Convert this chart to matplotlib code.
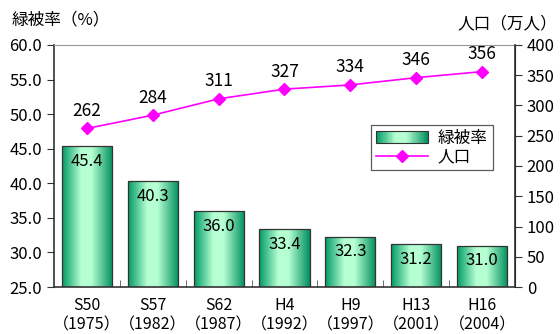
import matplotlib
matplotlib.use("Agg")
import matplotlib.pyplot as plt
import numpy as np
from matplotlib.colors import LinearSegmentedColormap
from matplotlib.legend_handler import HandlerBase
from matplotlib.patches import Rectangle
from matplotlib.lines import Line2D

plt.rcParams['font.family'] = ['Noto Sans CJK JP', 'DejaVu Sans']

periods = ["S50", "S57", "S62", "H4", "H9", "H13", "H16"]
years = ["1975", "1982", "1987", "1992", "1997", "2001", "2004"]
green_rate = [45.4, 40.3, 36.0, 33.4, 32.3, 31.2, 31.0]
population = [262, 284, 311, 327, 334, 346, 356]

# horizontal shading for the bars: dark edges, light middle
cmap = LinearSegmentedColormap.from_list(
    "bar", [(0.0, "#009a66"), (0.38, "#b6ffd2"), (0.58, "#b6ffd2"), (1.0, "#008f5e")])


class GradientHandler(HandlerBase):
    def create_artists(self, legend, orig, xdescent, ydescent, width, height, fontsize, trans):
        arts = []
        n = 30
        for i in range(n):
            arts.append(Rectangle((-xdescent + width * i / n, -ydescent), width / n + 0.3, height,
                                  facecolor=cmap((i + 0.5) / n), edgecolor="none", transform=trans))
        arts.append(Rectangle((-xdescent, -ydescent), width, height, facecolor="none",
                              edgecolor="#333333", lw=0.8, transform=trans))
        return arts


fig = plt.figure(figsize=(5.6, 3.34), dpi=100)
ax = fig.add_axes([0.0964, 0.1407, 0.8232, 0.7246])
x = np.arange(len(periods))
width = 0.76

bars = ax.bar(x, green_rate, width, color="none", edgecolor="#333333", lw=0.9, zorder=3)
grad = np.linspace(0, 1, 256).reshape(1, -1)
for b in bars:
    x0 = b.get_x()
    im = ax.imshow(grad, cmap=cmap, aspect="auto", zorder=2,
                   extent=(x0, x0 + b.get_width(), 25, b.get_height()))
    im.set_clip_path(b)
for xi, v in zip(x, green_rate):
    ax.text(xi, v - 1.0, f"{v:.1f}", ha="center", va="top", fontsize=12, zorder=4)

ax.set_xlim(-0.5, len(periods) - 0.5)
ax.set_ylim(25, 60)
ax.set_yticks(np.arange(25, 60.1, 5))
ax.set_yticklabels([f"{t:.1f}" for t in np.arange(25, 60.1, 5)])
ax.set_xticks(x)
ax.set_xticklabels([f"{p}\n（{y}）" for p, y in zip(periods, years)], fontsize=11.5, linespacing=1.2)
ax.set_xticks(np.arange(0.5, len(periods) - 1, 1), minor=True)
ax.tick_params(axis="x", which="major", length=0, pad=7)
ax.tick_params(axis="x", which="minor", direction="in", length=5, color="#555555")
ax.tick_params(axis="y", labelsize=12, length=5, direction="out", color="#333333")
ax.spines["top"].set_color("#999999")
for s in ["left", "bottom"]:
    ax.spines[s].set_color("#333333")
    ax.spines[s].set_linewidth(1.2)

ax2 = ax.twinx()
ax2.plot(x, population, color="#ff00ff", lw=1.2, marker="D", markersize=6, zorder=5)
for xi, v in zip(x, population):
    ax2.text(xi, v + 14, str(v), ha="center", va="bottom", fontsize=12.5)
ax2.set_ylim(0, 400)
ax2.set_yticks(np.arange(0, 401, 50))
ax2.tick_params(axis="y", labelsize=12, length=5, direction="out", color="#333333")
ax2.spines["right"].set_color("#333333")
ax2.spines["right"].set_linewidth(1.2)
ax2.spines["top"].set_visible(False)
ax2.spines["left"].set_visible(False)
ax2.spines["bottom"].set_visible(False)

fig.text(0.021, 0.94, "緑被率（%）", fontsize=12, ha="left", va="center")
fig.text(0.995, 0.93, "人口（万人）", fontsize=12, ha="right", va="center")

handles = [Rectangle((0, 0), 1, 1), Line2D([], [], color="#ff00ff", marker="D", markersize=6, lw=1.2)]
leg = ax2.legend(handles, ["緑被率", "人口"], handler_map={Rectangle: GradientHandler()},
                 loc="upper left", bbox_to_anchor=(0.67, 0.705), frameon=True, fancybox=False,
                 fontsize=12, handlelength=3.1, borderpad=0.3, labelspacing=0.1, handletextpad=0.6)
leg.get_frame().set_edgecolor("#333333")
leg.get_frame().set_linewidth(0.9)

fig.savefig("out.png", dpi=100)
